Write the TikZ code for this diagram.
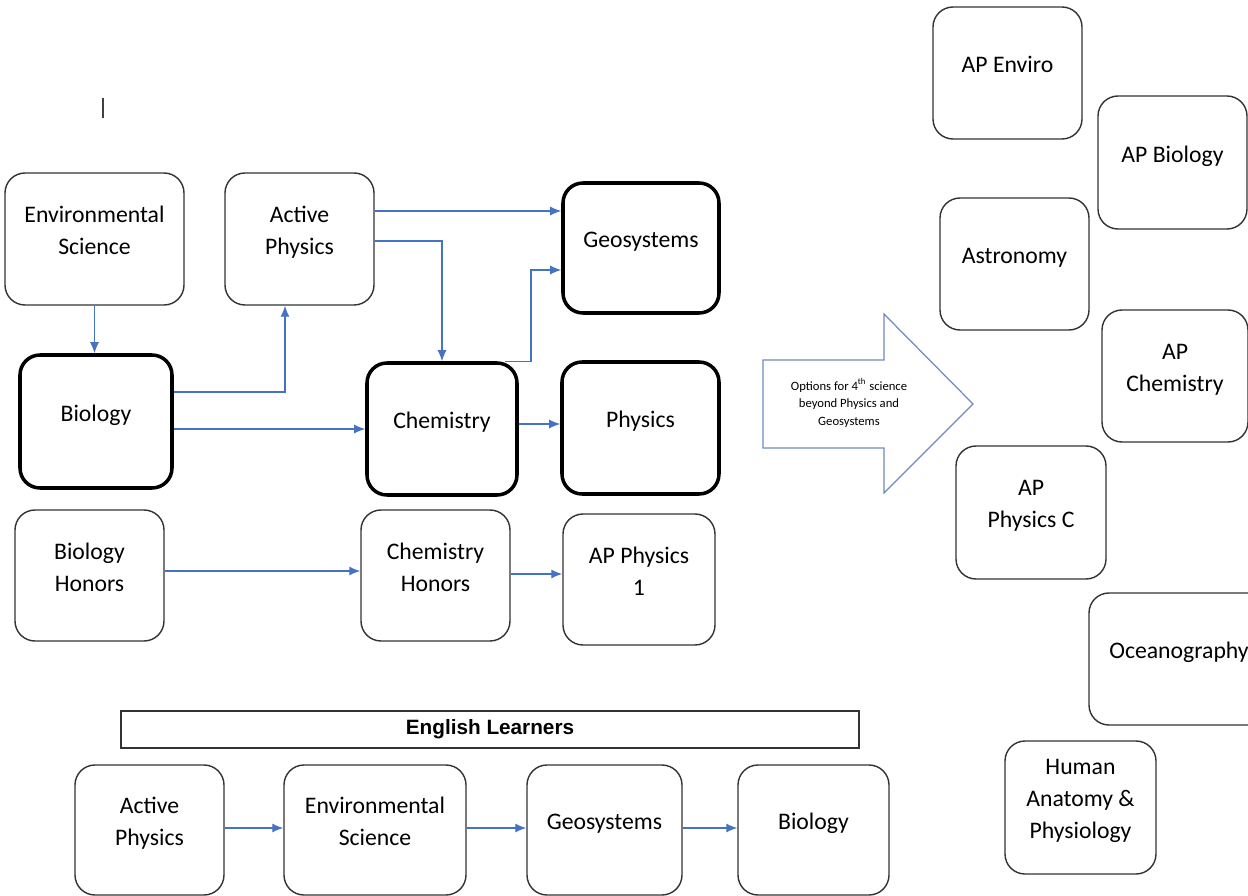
\documentclass[tikz,border=0pt]{standalone}
\usepackage{fontspec}
\setmainfont{Carlito}
\newfontfamily\arialfont{Liberation Sans}
\usepackage{tikz}
\usetikzlibrary{arrows,arrows.meta,calc,positioning}
\definecolor{linkblue}{HTML}{4472C4}
\definecolor{bigedge}{HTML}{7189BF}
\tikzset{
  course/.style={draw=black!80, line width=0.8pt, rounded corners=4mm, align=center,
    minimum width=29.8mm, minimum height=26.4mm, text depth=9.5pt,
    font=\fontsize{13.5}{18.2}\selectfont},
  core/.style={course, draw=black, line width=2pt},
  link/.style={draw=linkblue, line width=0.7pt, -{Latex[length=2.2mm,width=1.8mm]}},
  bigarrow/.style={draw=bigedge, line width=0.7pt, fill=white, line join=miter}
}
\begin{document}
\begin{tikzpicture}[x=0.2mm,y=-0.2mm]
\clip (0,0) rectangle (1248,896);
\fill[white] (0,0) rectangle (1248,896);
\draw[black!75, line width=1pt] (103,98) -- (103,118);
% main track
\node[course, minimum width=35.8mm] (envsci) at (94.5,239) {Environmental\\Science};
\node[course] (actphys) at (299.5,239) {Active\\Physics};
\node[core, minimum width=31.2mm, minimum height=26mm] (geo) at (641,248) {Geosystems};
\node[core, minimum width=30.4mm, minimum height=26.6mm] (bio) at (96,421.5) {Biology};
\node[core, minimum width=30mm] (chem) at (442,429) {Chemistry};
\node[core, minimum width=31.4mm] (phys) at (640.5,428) {Physics};
% honors track
\node[course, minimum height=26.2mm] (bioh) at (89.5,575.5) {Biology\\Honors};
\node[course, minimum height=26.2mm] (chemh) at (435.5,575.5) {Chemistry\\Honors};
\node[course, minimum width=30.4mm, minimum height=26.2mm] (apphys) at (639,579.5) {AP Physics\\1};
\draw[link] (envsci.south) -- (envsci.south |- bio.north);
\draw[link] ($(bio.east)+(0,-29.5)$) -| ($(actphys.south)+(-14.5,0)$);
\draw[link] (bio.east |- chem.west) -- (chem.west);
\draw[link] ($(actphys.east)+(0,-28)$) coordinate (ap1) -- (ap1 -| geo.west);
\draw[link] ($(actphys.east)+(0,2)$) -| (chem.north);
\draw[link] ($(chem.north)+(63,0)$) -- ++(26,0) |- ($(geo.west)+(0,22)$);
\draw[link] ($(chem.east)+(0,-5)$) coordinate (ch1) -- (ch1 -| phys.west);
\draw[link] ($(bioh.east)+(0,-4.5)$) coordinate (bh1) -- (bh1 -| chemh.west);
\draw[link] ($(chemh.east)+(0,-1.5)$) coordinate (chh1) -- (chh1 -| apphys.west);
% english learners
\node[draw=black!80, line width=0.8pt, minimum width=147.6mm, minimum height=7.4mm,
  font=\arialfont\bfseries\fontsize{11.8}{13}\selectfont] (ell) at (490,729.5) {English Learners};
\node[course, minimum height=26mm] (elact) at (149.5,830) {Active\\Physics};
\node[course, minimum width=36.4mm, minimum height=26mm] (elenv) at (375,830) {Environmental\\Science};
\node[course, minimum width=31mm, minimum height=26mm] (elgeo) at (604.5,830) {Geosystems};
\node[course, minimum width=30.2mm, minimum height=26mm] (elbio) at (813.5,830) {Biology};
\draw[link] ($(elact.east)+(0,-2)$) coordinate (e1) -- (e1 -| elenv.west);
\draw[link] ($(elenv.east)+(0,-2)$) coordinate (e2) -- (e2 -| elgeo.west);
\draw[link] ($(elgeo.east)+(0,-2)$) coordinate (e3) -- (e3 -| elbio.west);
% options
\draw[bigarrow] (763,360) -- (884,360) -- (884,314) -- (973,404) -- (884,493) -- (884,448) -- (763,448) -- cycle;
\node[align=center, font=\fontsize{7.2}{10}\selectfont] (opttext) at (849,403)
  {Options for 4\textsuperscript{th} science\\beyond Physics and\\Geosystems};
\node[course] (apenv) at (1007.5,73) {AP Enviro};
\node[course, minimum height=26.6mm] (apbio) at (1172.5,162.5) {AP Biology};
\node[course] (astro) at (1014.5,264) {Astronomy};
\node[course, minimum width=29.2mm] (apchem) at (1175,376) {AP\\Chemistry};
\node[course, minimum width=30mm, minimum height=26.6mm] (apphysc) at (1031,512.5) {AP\\Physics C};
\node[course, minimum width=36mm] (ocean) at (1179,659) {Oceanography};
\node[course, minimum width=30.2mm, minimum height=26.6mm] (anat) at (1080.5,807.5) {Human\\Anatomy \&\\Physiology};
\end{tikzpicture}
\end{document}
